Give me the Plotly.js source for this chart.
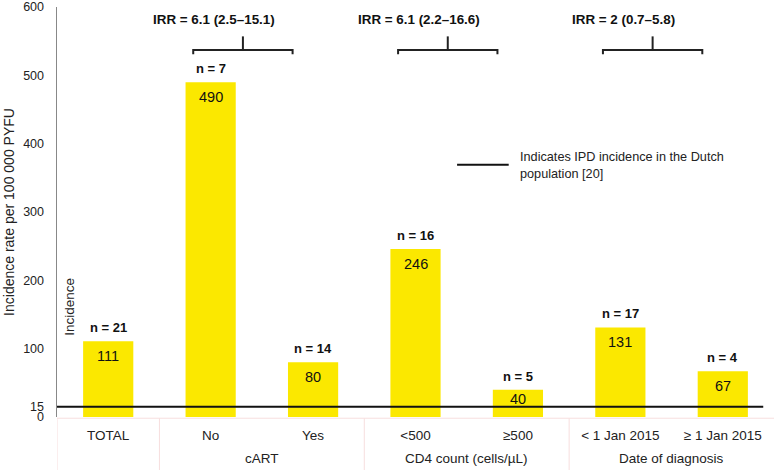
<!DOCTYPE html>
<html>
<head>
<meta charset="utf-8">
<script src="https://cdn.plot.ly/plotly-3.0.1.min.js"></script>
<style>
  body { margin: 0; background: #fff; }
  #plot { width: 777px; height: 470px; }
</style>
</head>
<body>
<div id="plot"></div>
<script>
// values
var categories = ["TOTAL", "No", "Yes", "<500", "\u2265500", "< 1 Jan 2015", "\u2265 1 Jan 2015"];
var rates = [111, 490, 80, 246, 40, 131, 67];
var nCounts = [21, 7, 14, 16, 5, 17, 4];
var groupNames = ["cART", "CD4 count (cells/\u00b5L)", "Date of diagnosis"];
var irrLabels = ["IRR = 6.1 (2.5\u201315.1)", "IRR = 6.1 (2.2\u201316.6)", "IRR = 2 (0.7\u20135.8)"];
var dutchRate = 15;

var FONT = "Liberation Sans, Arial, sans-serif";
var yellow = "#fbe800";
var idx = categories.map(function (c, i) { return i; });

var trace1 = {
  x: idx,
  y: rates,
  type: "bar",
  width: 0.49,
  marker: { color: yellow },
  hoverinfo: "skip"
};

var annotations = [];
var shapes = [];

// value labels inside bars, n labels above
rates.forEach(function (v, i) {
  annotations.push({
    x: i, y: v, xref: "x", yref: "y", text: String(v), showarrow: false,
    yanchor: "middle", yshift: v < 60 ? -9 : -15,
    font: { family: FONT, size: 14.5, color: "#111" }
  });
  annotations.push({
    x: i, y: v, xref: "x", yref: "y", text: "<b>n = " + nCounts[i] + "</b>", showarrow: false,
    yanchor: "bottom", yshift: 4,
    font: { family: FONT, size: 13, color: "#111" }
  });
});

// brackets with IRR labels over each pair
irrLabels.forEach(function (lab, k) {
  var a = 1 + 2 * k - 0.17, b = a + 0.97, mid = (a + b) / 2;
  shapes.push({
    type: "path", xref: "x", yref: "y",
    path: "M" + a + ",531 L" + a + ",537 L" + b + ",537 L" + b + ",531",
    line: { color: "#222", width: 2 }
  });
  shapes.push({
    type: "line", xref: "x", yref: "y", x0: mid, x1: mid, y0: 537, y1: 557,
    line: { color: "#222", width: 2 }
  });
  annotations.push({
    x: mid - 0.28, y: 582, xref: "x", yref: "y", text: "<b>" + lab + "</b>", showarrow: false,
    font: { family: FONT, size: 13.4, color: "#111" }
  });
});

// reference line for Dutch population
shapes.push({
  type: "line", xref: "paper", yref: "y", x0: 0, x1: 0.985, y0: dutchRate, y1: dutchRate,
  line: { color: "#111", width: 2 }
});

// legend-like note
shapes.push({
  type: "line", xref: "paper", yref: "paper", x0: 0.558, x1: 0.630, y0: 0.615, y1: 0.615,
  line: { color: "#111", width: 2 }
});
annotations.push({
  x: 0.643, y: 0.613, xref: "paper", yref: "paper", xanchor: "left", yanchor: "middle",
  align: "left", showarrow: false,
  text: "Indicates IPD incidence in the Dutch<br>population [20]",
  font: { family: FONT, size: 12.7, color: "#222" }
});

// inner "Incidence" label
annotations.push({
  x: 0.003, y: 0.268, xref: "paper", yref: "paper", xanchor: "left", yanchor: "middle",
  textangle: -90, showarrow: false, text: "Incidence",
  font: { family: FONT, size: 13.5, color: "#222" }
});

// table under the axis
var tableColor = "#f7dede";
shapes.push({
  type: "line", xref: "paper", yref: "paper", x0: 0, x1: 1, y0: -0.003, y1: -0.003,
  line: { color: tableColor, width: 1 }
});
[-0.5, 0.5, 2.5, 4.5].forEach(function (xv) {
  shapes.push({
    type: "line", xref: "x", yref: "paper", x0: xv, x1: xv, y0: -0.003, y1: -0.14,
    line: { color: tableColor, width: 1 }
  });
});
groupNames.forEach(function (g, k) {
  annotations.push({
    x: 1.5 + 2 * k, y: -0.102, xref: "x", yref: "paper", text: g, showarrow: false,
    yanchor: "middle", font: { family: FONT, size: 13.5, color: "#222" }
  });
});

var data = [trace1];

var layout = {
  width: 777,
  height: 470,
  margin: { l: 57, r: 3, t: 7, b: 53 },
  paper_bgcolor: "#fff",
  plot_bgcolor: "#fff",
  showlegend: false,
  bargap: 0.51,
  xaxis: {
    range: [-0.5, 6.5],
    tickvals: idx,
    ticktext: categories,
    showgrid: false,
    zeroline: false,
    showline: false,
    ticks: "",
    ticklabelstandoff: 8,
    tickfont: { family: FONT, size: 13.5, color: "#222" }
  },
  yaxis: {
    range: [0, 600],
    tickvals: [0, 15, 100, 200, 300, 400, 500, 600],
    showgrid: false,
    zeroline: false,
    showline: true,
    linecolor: "#888",
    linewidth: 1.5,
    ticks: "",
    ticklabelstandoff: 9,
    tickfont: { family: FONT, size: 12.5, color: "#222" },
    title: {
      text: "Incidence rate per 100 000 PYFU",
      standoff: 5,
      font: { family: FONT, size: 14, color: "#222" }
    }
  },
  shapes: shapes,
  annotations: annotations
};

Plotly.newPlot("plot", data, layout, { displayModeBar: false, staticPlot: true });
</script>
</body>
</html>
